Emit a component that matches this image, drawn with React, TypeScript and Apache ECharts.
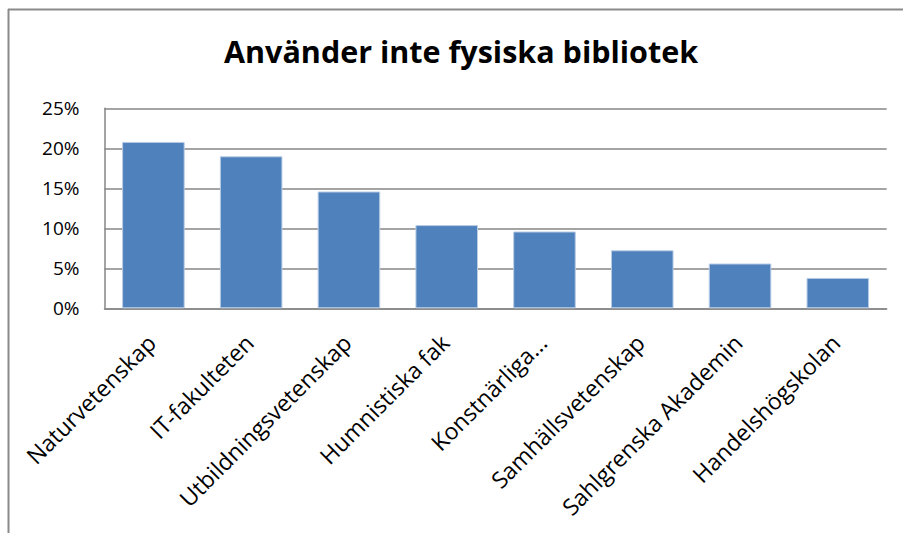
import React, { useEffect, useRef } from "react";
import * as echarts from "echarts";

const categories = [
  "Naturvetenskap",
  "IT-fakulteten",
  "Utbildningsvetenskap",
  "Humnistiska fak",
  "Konstnärliga...",
  "Samhällsvetenskap",
  "Sahlgrenska Akademin",
  "Handelshögskolan",
];
const values = [20.8, 19.0, 14.6, 10.4, 9.6, 7.25, 5.6, 3.8];
const yTicks = [0, 5, 10, 15, 20, 25];

const FONT = "'Open Sans', 'Noto Sans', sans-serif";

export default function App() {
  const ref = useRef<HTMLDivElement>(null);
  useEffect(() => {
    if (!ref.current) return;
    const chart = echarts.init(ref.current, undefined, { renderer: "svg" });
    chart.setOption({
      animation: false,
      backgroundColor: "#ffffff",
      title: {
        text: "Använder inte fysiska bibliotek",
        left: 224,
        top: 35,
        padding: 0,
        textStyle: { fontFamily: FONT, fontWeight: "bold", fontSize: 30.5, color: "#000" },
      },
      graphic: [
        { type: "line", shape: { x1: 8, y1: 9.5, x2: 903, y2: 9.5 }, style: { stroke: "#8a8a8a", lineWidth: 2 } },
        { type: "line", shape: { x1: 8.5, y1: 9, x2: 8.5, y2: 533 }, style: { stroke: "#8a8a8a", lineWidth: 2 } },
      ],
      grid: { left: 104.5, right: 16.3, top: 108.3, bottom: 224.7, containLabel: false },
      xAxis: {
        type: "category",
        data: categories,
        axisTick: { show: false },
        axisLine: { lineStyle: { color: "#868686", width: 1.5 } },
        axisLabel: {
          interval: 0,
          rotate: 45,
          margin: 28,
          padding: [0, 3, 0, 0],
          fontFamily: FONT,
          fontSize: 23,
          color: "#000",
        },
      },
      yAxis: {
        type: "value",
        min: 0,
        max: 25,
        interval: 5,
        axisLine: { show: true, lineStyle: { color: "#868686", width: 1.5 } },
        axisTick: { show: false },
        splitLine: { lineStyle: { color: "#868686", width: 1.5 } },
        axisLabel: {
          formatter: (v: number) => (yTicks.includes(v) ? v + "%" : ""),
          margin: 25,
          fontFamily: FONT,
          fontSize: 19,
          color: "#000",
        },
      },
      series: [
        {
          type: "bar",
          data: values,
          barWidth: "64%",
          itemStyle: { color: "#4F81BD", borderColor: "#b9cde5", borderWidth: 1 },
        },
      ],
    });
    return () => chart.dispose();
  }, []);
  return <div ref={ref} style={{ width: 903, height: 533, position: "fixed", left: 0, top: 0 }} />;
}
